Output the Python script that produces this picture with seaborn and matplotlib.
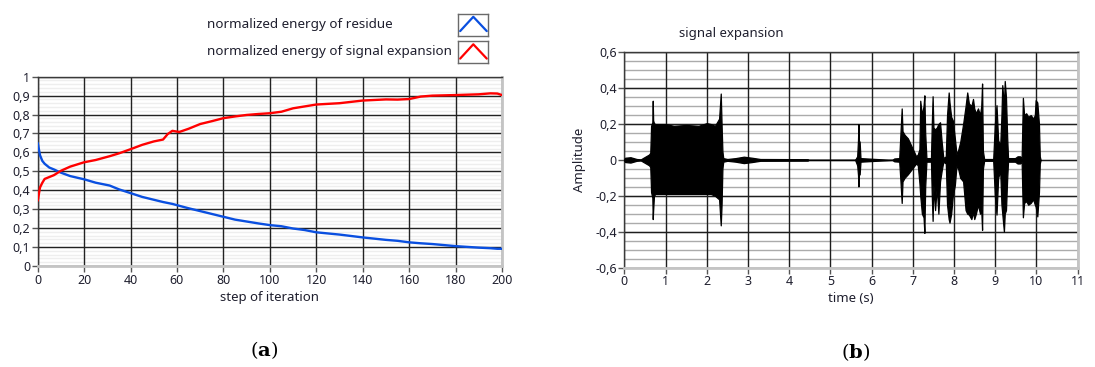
import numpy as np
import pandas as pd
import matplotlib
matplotlib.use('Agg')
import matplotlib.pyplot as plt
import seaborn as sns
from matplotlib.ticker import FuncFormatter, MultipleLocator

# ---------------- data: panel (a) ----------------
iter_steps = [0, 1, 2, 3, 5, 7, 10, 14, 20, 25, 31, 35, 40, 45, 50, 54, 56, 58, 61, 65,
              70, 75, 80, 85, 90, 95, 100, 105, 110, 115, 120, 130, 140, 150, 155, 160,
              165, 170, 180, 190, 195, 198, 200]
residue_energy = [0.65, 0.585, 0.555, 0.54, 0.52, 0.51, 0.493, 0.475, 0.458, 0.44, 0.425,
                  0.405, 0.385, 0.365, 0.35, 0.338, 0.333, 0.328, 0.318, 0.305, 0.29, 0.275,
                  0.26, 0.245, 0.235, 0.225, 0.216, 0.21, 0.198, 0.19, 0.178, 0.166, 0.151,
                  0.138, 0.133, 0.125, 0.12, 0.116, 0.105, 0.097, 0.094, 0.091, 0.091]
expansion_energy = [0.345, 0.415, 0.44, 0.46, 0.47, 0.48, 0.503, 0.525, 0.548, 0.56, 0.58,
                    0.595, 0.617, 0.64, 0.658, 0.668, 0.697, 0.714, 0.708, 0.725, 0.75,
                    0.765, 0.781, 0.79, 0.798, 0.803, 0.807, 0.815, 0.833, 0.843, 0.853,
                    0.86, 0.874, 0.88, 0.879, 0.882, 0.895, 0.9, 0.903, 0.907, 0.912,
                    0.911, 0.903]
series_names = ["normalized energy of residue", "normalized energy of signal expansion"]
series_colors = ["#0a4fe0", "#ff0000"]

# ---------------- data: panel (b), envelope of the waveform ----------------
sig_time = [
    0.00, 0.02, 0.15, 0.30, 0.40, 0.45, 0.60, 0.63, 0.65, 0.68,
    0.69, 0.70, 0.72, 0.75, 1.00, 1.20, 1.50, 1.80, 2.00, 2.10,
    2.20, 2.25, 2.30, 2.34, 2.36, 2.38, 2.40, 2.50, 2.70, 2.90,
    3.10, 3.30, 4.45, 4.47, 5.60, 5.65, 5.67, 5.68, 5.69, 5.71,
    5.73, 6.50, 6.55, 6.67, 6.70, 6.73, 6.75, 6.80, 6.88, 6.98,
    7.08, 7.12, 7.16, 7.18, 7.22, 7.26, 7.28, 7.30, 7.33, 7.44,
    7.46, 7.48, 7.50, 7.54, 7.58, 7.62, 7.66, 7.70, 7.74, 7.80,
    7.83, 7.87, 7.89, 7.93, 7.97, 8.02, 8.06, 8.10, 8.15, 8.22,
    8.28, 8.32, 8.36, 8.42, 8.46, 8.49, 8.53, 8.58, 8.63, 8.66,
    8.68, 8.70, 8.73, 8.95, 8.99, 9.03, 9.07, 9.12, 9.15, 9.17,
    9.21, 9.23, 9.26, 9.29, 9.31, 9.48, 9.54, 9.60, 9.64, 9.67,
    9.70, 9.75, 9.80, 9.86, 9.92, 9.96, 9.98, 10.02, 10.06, 10.08, 10.10]
sig_upper = [
    0.005, 0.012, 0.015, 0.005, 0.003, 0.01, 0.03, 0.04, 0.19, 0.21,
    0.33, 0.22, 0.205, 0.2, 0.2, 0.19, 0.195, 0.19, 0.205, 0.2,
    0.19, 0.21, 0.23, 0.37, 0.2, 0.05, 0.01, 0.005, 0.01, 0.018,
    0.012, 0.005, 0.004, 0.0, 0.0, 0.02, 0.11, 0.2, 0.11, 0.1,
    0.01, 0.0, 0.008, 0.01, 0.15, 0.287, 0.16, 0.14, 0.12, 0.07,
    0.02, 0.03, 0.06, 0.33, 0.25, 0.3, 0.36, 0.15, 0.01, 0.01,
    0.2, 0.355, 0.18, 0.17, 0.18, 0.2, 0.21, 0.1, 0.01, 0.02,
    0.25, 0.376, 0.32, 0.24, 0.22, 0.12, 0.03, 0.055, 0.1, 0.2,
    0.3, 0.376, 0.315, 0.3, 0.34, 0.287, 0.26, 0.287, 0.25, 0.3,
    0.426, 0.05, 0.005, 0.005, 0.2, 0.305, 0.11, 0.08, 0.25, 0.417,
    0.3, 0.44, 0.35, 0.12, 0.01, 0.01, 0.02, 0.02, 0.01, 0.346,
    0.25, 0.26, 0.24, 0.25, 0.23, 0.25, 0.333, 0.32, 0.2, 0.02, 0.0]
sig_lower = [
    -0.005, -0.012, -0.015, -0.005, -0.003, -0.01, -0.03, -0.04, -0.18, -0.21,
    -0.33, -0.28, -0.2, -0.19, -0.19, -0.19, -0.19, -0.19, -0.19, -0.19,
    -0.2, -0.21, -0.22, -0.365, -0.25, -0.05, -0.01, -0.005, -0.01, -0.018,
    -0.012, -0.005, -0.004, 0.0, 0.0, -0.03, -0.083, -0.148, -0.085, -0.08,
    -0.01, 0.0, -0.008, -0.01, -0.12, -0.24, -0.12, -0.1, -0.08, -0.05,
    -0.02, -0.03, -0.13, -0.2, -0.3, -0.32, -0.407, -0.15, -0.01, -0.01,
    -0.2, -0.34, -0.14, -0.28, -0.15, -0.3, -0.12, -0.06, -0.01, -0.02,
    -0.25, -0.33, -0.35, -0.3, -0.2, -0.14, -0.03, -0.05, -0.1, -0.12,
    -0.28, -0.3, -0.305, -0.33, -0.29, -0.33, -0.3, -0.25, -0.3, -0.28,
    -0.39, -0.05, -0.005, -0.005, -0.2, -0.305, -0.1, -0.06, -0.25, -0.3,
    -0.4, -0.3, -0.28, -0.1, -0.01, -0.01, -0.02, -0.02, -0.01, -0.32,
    -0.24, -0.23, -0.25, -0.24, -0.22, -0.25, -0.26, -0.315, -0.18, -0.02, 0.0]

# ---------------- style ----------------
sns.set_theme(style="white")
plt.rcParams['font.family'] = ['Noto Sans', 'DejaVu Sans']
plt.rcParams['mathtext.fontset'] = 'dejavuserif'
TXT = "#1f1f2e"
W, H = 1095, 367


def comma_fmt(v, pos=None):
    v = round(v, 6)
    if abs(v) < 1e-9:
        return "0"
    s = f"{v:.1f}"
    if s.endswith(".0"):
        s = s[:-2]
    return s.replace(".", ",")


fig = plt.figure(figsize=(W / 100, H / 100), dpi=100)


def box(x0, y0, x1, y1):
    return [x0 / W, 1 - y1 / H, (x1 - x0) / W, (y1 - y0) / H]


ax1 = fig.add_axes(box(37.7, 76.7, 502.0, 266.0))
ax2 = fig.add_axes(box(624.3, 52.3, 1077.7, 267.5))


def style_axes(ax, minor_step, minor_color):
    ax.set_facecolor("white")
    for side in ("left", "top"):
        ax.spines[side].set_color("#3a3a3a")
        ax.spines[side].set_linewidth(1.0)
    for side in ("right", "bottom"):
        ax.spines[side].set_color("#c4c4c4")
        ax.spines[side].set_linewidth(2.0)
    ax.tick_params(which="major", direction="out", length=4, width=1, color="#555555",
                   labelsize=9, labelcolor=TXT, pad=1.5, left=True, bottom=True)
    ax.set_axisbelow(True)
    # minor horizontal grid drawn underneath the major grid
    lo, hi = ax.get_ylim()
    minor_locs = MultipleLocator(minor_step).tick_values(lo, hi)
    ax.hlines(minor_locs, 0, 1, transform=ax.get_yaxis_transform(),
              colors=minor_color, linewidth=1.0, zorder=0.1)


# ---------------- panel (a) ----------------
df = pd.DataFrame({
    "step": iter_steps * 2,
    "energy": residue_energy + expansion_energy,
    "series": [series_names[0]] * len(iter_steps) + [series_names[1]] * len(iter_steps),
})
sns.lineplot(data=df, x="step", y="energy", hue="series",
             palette=dict(zip(series_names, series_colors)),
             ax=ax1, legend=False, linewidth=1.7, zorder=3)
ax1.set_xlim(0, 200)
ax1.set_ylim(0, 1)
ax1.xaxis.set_major_locator(MultipleLocator(20))
ax1.yaxis.set_major_locator(MultipleLocator(0.1))
ax1.yaxis.set_major_formatter(FuncFormatter(comma_fmt))
ax1.grid(which="major", color="#222222", linewidth=1.0)
style_axes(ax1, 0.02, "#eeeeee")
ax1.set_xlabel("step of iteration", fontsize=9.5, color=TXT, labelpad=3)
ax1.set_ylabel("")

# legend of panel (a)
for i, (name, col) in enumerate(zip(series_names, series_colors)):
    yc = 24.5 + 27.5 * i
    fig.text(207 / W, 1 - yc / H, name, ha="left", va="center", fontsize=9.7, color=TXT)
    lax = fig.add_axes(box(457.7, yc - 11, 488.3, yc + 11))
    lax.plot([0.08, 0.51, 0.95], [0.2, 0.85, 0.2], color=col, linewidth=1.6)
    lax.set_xlim(0, 1)
    lax.set_ylim(0, 1)
    lax.set_xticks([])
    lax.set_yticks([])
    lax.set_facecolor("white")
    for side in lax.spines.values():
        side.set_color("#6a6a6a")
        side.set_linewidth(1.0)

# ---------------- panel (b) ----------------
ax2.fill_between(sig_time, sig_lower, sig_upper, color="black", linewidth=0.9,
                 edgecolor="black", zorder=3)
sns.lineplot(x=sig_time, y=[0.0] * len(sig_time), ax=ax2, color="black",
             linewidth=0.8, zorder=3)
ax2.set_xlim(0, 11)
ax2.set_ylim(-0.6, 0.6)
ax2.xaxis.set_major_locator(MultipleLocator(1))
ax2.yaxis.set_major_locator(MultipleLocator(0.2))
ax2.yaxis.set_major_formatter(FuncFormatter(comma_fmt))
ax2.grid(which="major", color="#1e1e1e", linewidth=1.0)
style_axes(ax2, 0.05, "#ababab")
ax2.set_xlabel("time (s)", fontsize=9.5, color=TXT, labelpad=3)
ax2.set_ylabel("")

fig.text(731 / W, 1 - 33 / H, "signal expansion", ha="center", va="center",
         fontsize=9.5, color=TXT)
fig.text(579 / W, 1 - 160 / H, "Amplitude", ha="center", va="center",
         rotation=90, fontsize=9.5, color=TXT)

fig.text(264 / W, 1 - 350 / H, r"$(\mathbf{a})$", ha="center", va="center",
         fontsize=14, color="black")
fig.text(856 / W, 1 - 352 / H, r"$(\mathbf{b})$", ha="center", va="center",
         fontsize=14, color="black")

fig.savefig("out.png", dpi=100, facecolor="white")
